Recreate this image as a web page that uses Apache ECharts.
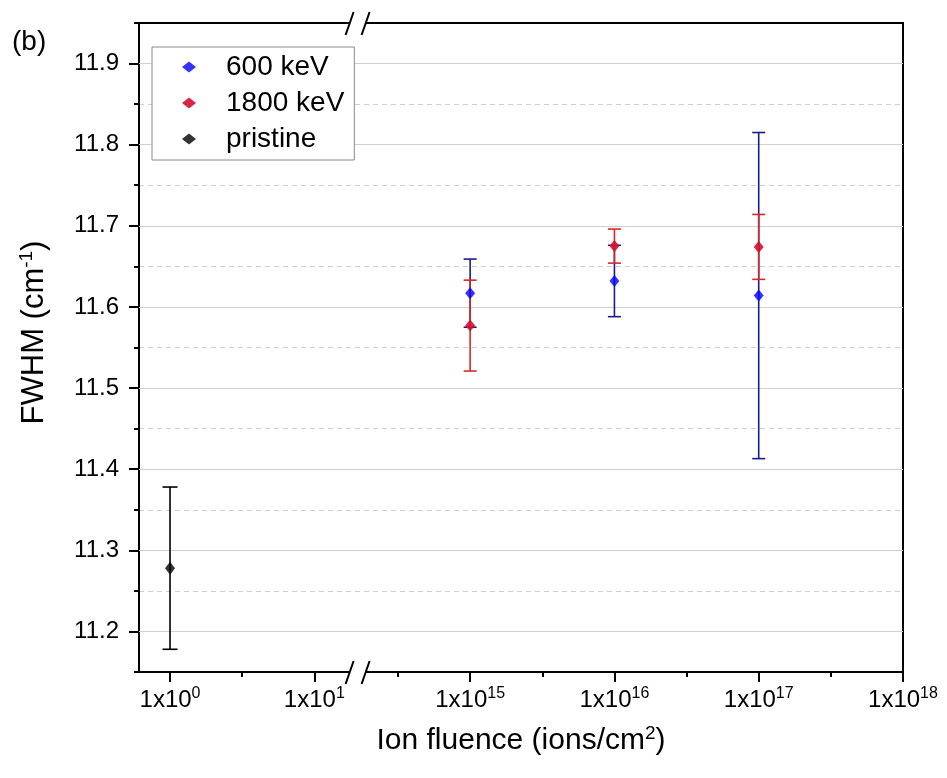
<!DOCTYPE html>
<html>
<head>
<meta charset="utf-8">
<script src="https://cdn.jsdelivr.net/npm/echarts@6.0.0/dist/echarts.min.js"></script>
<style>
  html, body { margin: 0; padding: 0; background: #fff; }
  #chart { width: 947px; height: 778px; }
</style>
</head>
<body>
<div id="chart"></div>
<script>
// ---- data ----
// fluence exponents shown on the axis (1x10^n)
const majorExp = [0, 1, 15, 16, 17, 18];
const minorExp = [0.5, 14.5, 15.5, 16.5, 17.5];
const breakExp = 1.3; // where the "//" sits

const fluence = [1e15, 1e16, 1e17];
const fwhm600 = [11.617, 11.632, 11.614];
const err600 = [0.042, 0.044, 0.201];
const fwhm1800 = [11.577, 11.675, 11.674];
const err1800 = [0.056, 0.021, 0.040];

const pristineFluence = [1e0];
const fwhmPristine = [11.278];
const errPristine = [0.100];

const yMajor = [11.2, 11.3, 11.4, 11.5, 11.6, 11.7, 11.8, 11.9];

// broken log axis: decades 1 .. 15 are squeezed out
const SHIFT = 12.92;
const pos = (e) => (e <= 1.5 ? e : e - SHIFT);
const unpos = (p) => (p <= 1.5 ? p : p + SHIFT);
const xOf = (f) => pos(Math.log10(f));

const FONT = "'Liberation Sans', Arial, sans-serif";
const blue = '#0000ff', blueBar = '#1c1c8e';
const red = '#d4102e', redBar = '#d42a2a';

function errorBar(capW, color) {
  return function (params, api) {
    const x = api.value(0);
    const lo = api.coord([x, api.value(1)]);
    const hi = api.coord([x, api.value(2)]);
    const h = capW / 2;
    const st = { stroke: color, lineWidth: 1.6 };
    return {
      type: 'group',
      children: [
        { type: 'line', shape: { x1: lo[0], y1: lo[1], x2: hi[0], y2: hi[1] }, style: st },
        { type: 'line', shape: { x1: lo[0] - h, y1: lo[1], x2: lo[0] + h, y2: lo[1] }, style: st },
        { type: 'line', shape: { x1: hi[0] - h, y1: hi[1], x2: hi[0] + h, y2: hi[1] }, style: st }
      ]
    };
  };
}

const bars = (xs, ys, es) => xs.map((f, i) => [xOf(f), ys[i] - es[i], ys[i] + es[i]]);
const pts = (xs, ys) => xs.map((f, i) => [xOf(f), ys[i]]);

const chart = echarts.init(document.getElementById('chart'), null, { renderer: 'canvas' });

const xMin = -0.215, xMax = pos(18);
const yMin = 11.15, yMax = 11.95;

const option = {
  animation: false,
  textStyle: { fontFamily: FONT },
  grid: {
    left: 139, right: 44, top: 23, bottom: 106,
    show: true, borderColor: '#000', borderWidth: 2, backgroundColor: 'transparent'
  },
  legend: {
    left: 152, top: 47, z: 20,
    orient: 'vertical',
    data: ['600 keV', '1800 keV', 'pristine'],
    padding: [5, 10, 6, 30],
    itemGap: 6,
    itemWidth: 14, itemHeight: 11,
    borderColor: '#8a8a8a', borderWidth: 1,
    backgroundColor: '#fff',
    textStyle: { fontSize: 28, color: '#000', fontFamily: FONT, padding: [0, 0, 0, 25], lineHeight: 30 }
  },
  xAxis: [
    {
      type: 'value', min: xMin, max: xMax, position: 'bottom',
      axisLine: { show: true, onZero: false, lineStyle: { color: '#000', width: 2 } },
      axisTick: { show: true, customValues: majorExp.map(pos), length: 10, lineStyle: { color: '#000', width: 2 } },
      axisLabel: {
        customValues: majorExp.map(pos), margin: 14,
        formatter: (v) => '{b|1x10}{s|' + Math.round(unpos(v)) + '}',
        rich: {
          b: { fontSize: 24, color: '#000', fontFamily: FONT, lineHeight: 28 },
          s: { fontSize: 16, color: '#000', fontFamily: FONT, verticalAlign: 'top', lineHeight: 18 }
        }
      },
      splitLine: { show: false },
      name: '{a|Ion fluence (ions/cm}{s|2}{a|)}',
      nameLocation: 'middle', nameGap: 52,
      nameTextStyle: {
        rich: {
          a: { fontSize: 30, color: '#000', fontFamily: FONT, lineHeight: 34 },
          s: { fontSize: 19, color: '#000', fontFamily: FONT, verticalAlign: 'top', lineHeight: 20 }
        }
      }
    },
    {
      type: 'value', min: xMin, max: xMax, position: 'bottom',
      axisLine: { show: false, onZero: false },
      axisTick: { show: true, customValues: minorExp.map(pos), length: 5, lineStyle: { color: '#000', width: 2 } },
      axisLabel: { show: false },
      splitLine: { show: false }
    }
  ],
  yAxis: [
    {
      type: 'value', min: yMin, max: yMax, interval: 0.05, position: 'left',
      axisLine: { show: true, onZero: false, lineStyle: { color: '#000', width: 2 } },
      axisTick: { show: true, length: 5, lineStyle: { color: '#000', width: 2 } },
      axisLabel: { show: false },
      splitLine: { show: true, showMinLine: false, showMaxLine: false, lineStyle: { color: '#cfcfcf', type: [5, 4], width: 1 } },
      name: '{a|FWHM (cm}{s|-1}{a|)}',
      nameLocation: 'middle', nameGap: 88, nameRotate: 90,
      nameTextStyle: {
        padding: [0, 0, 0, 30],
        rich: {
          a: { fontSize: 31, color: '#000', fontFamily: FONT, lineHeight: 34 },
          s: { fontSize: 19, color: '#000', fontFamily: FONT, verticalAlign: 'top', lineHeight: 20 }
        }
      }
    },
    {
      type: 'value', min: yMin, max: yMax, position: 'left',
      axisLine: { show: false, onZero: false },
      axisTick: { show: true, customValues: yMajor, length: 10, lineStyle: { color: '#000', width: 2 } },
      axisLabel: {
        customValues: yMajor, margin: 20, fontSize: 24, color: '#000', fontFamily: FONT,
        formatter: (v) => v.toFixed(1)
      },
      splitLine: { show: false }
    }
  ],
  series: [
    {
      name: 'err600', type: 'custom', renderItem: errorBar(13, blueBar),
      data: bars(fluence, fwhm600, err600), encode: { x: 0, y: [1, 2] }, z: 3,
      // solid major grid lines
      markLine: {
        silent: true, symbol: 'none', label: { show: false }, z: 1,
        lineStyle: { color: '#d0d0d0', type: 'solid', width: 1.2 },
        data: yMajor.map((v) => ({ yAxis: v }))
      }
    },
    {
      name: 'err1800', type: 'custom', renderItem: errorBar(13, redBar),
      data: bars(fluence, fwhm1800, err1800), encode: { x: 0, y: [1, 2] }, z: 4
    },
    {
      name: 'errPristine', type: 'custom', renderItem: errorBar(15, '#000'),
      data: bars(pristineFluence, fwhmPristine, errPristine), encode: { x: 0, y: [1, 2] }, z: 4
    },
    {
      name: '600 keV', type: 'scatter', symbol: 'diamond', symbolSize: [10, 12],
      itemStyle: { color: blue }, data: pts(fluence, fwhm600), z: 5
    },
    {
      name: '1800 keV', type: 'scatter', symbol: 'diamond', symbolSize: [10, 12],
      itemStyle: { color: red, opacity: 0.9 }, data: pts(fluence, fwhm1800), z: 6
    },
    {
      name: 'pristine', type: 'scatter', symbol: 'diamond', symbolSize: [10, 13],
      itemStyle: { color: '#000' }, data: pts(pristineFluence, fwhmPristine), z: 6
    }
  ]
};

chart.setOption(option);

// panel label and axis-break marks
function breakMark(cx, cy) {
  const st = { stroke: '#000', lineWidth: 2 };
  return [
    { type: 'rect', shape: { x: cx - 8, y: cy - 3, width: 16, height: 6 }, style: { fill: '#fff' }, z: 100 },
    { type: 'line', shape: { x1: cx - 12, y1: cy + 12, x2: cx - 4, y2: cy - 11 }, style: st, z: 101 },
    { type: 'line', shape: { x1: cx + 4, y1: cy + 12, x2: cx + 12, y2: cy - 11 }, style: st, z: 101 }
  ];
}
const bx = chart.convertToPixel({ xAxisIndex: 0 }, pos(breakExp));
const yTop = chart.convertToPixel({ yAxisIndex: 0 }, yMax);
const yBot = chart.convertToPixel({ yAxisIndex: 0 }, yMin);

chart.setOption({
  graphic: [
    { type: 'text', left: 12, top: 28, style: { text: '(b)', fontSize: 28, fill: '#000', fontFamily: FONT } },
    ...breakMark(bx, yTop),
    ...breakMark(bx, yBot)
  ]
});
</script>
</body>
</html>
